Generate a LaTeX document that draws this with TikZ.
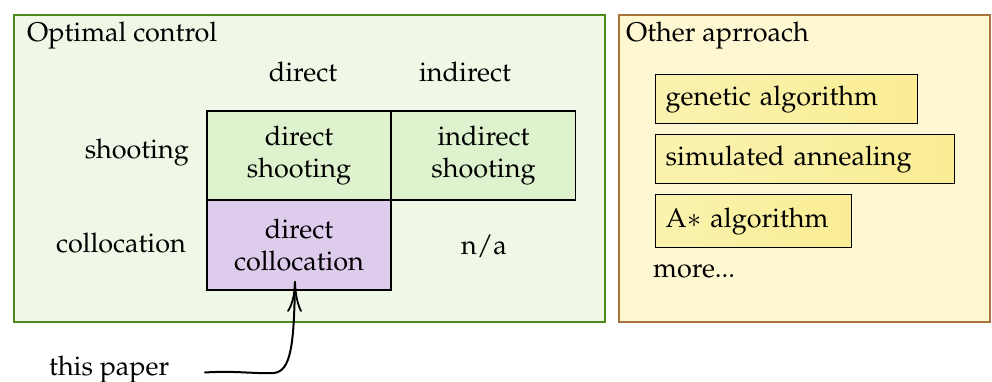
\documentclass[tikz,border=0pt]{standalone}
\usepackage[T1]{fontenc}
\usepackage{mathpazo}
\usetikzlibrary{arrows.meta}
\definecolor{ocborder}{RGB}{76,138,28}
\definecolor{ocfill}{RGB}{239,248,230}
\definecolor{cellgreen}{RGB}{222,242,206}
\definecolor{celllav}{RGB}{221,204,236}
\definecolor{oaborder}{RGB}{168,116,60}
\definecolor{oafill}{RGB}{253,248,210}
\definecolor{yleft}{RGB}{250,243,176}
\definecolor{yright}{RGB}{250,237,148}
\tikzset{
  txt/.style={font=\fontsize{27}{32}\selectfont, inner sep=0pt},
  cell/.style={txt, draw=black, line width=1.6pt, minimum width=184pt, minimum height=89.5pt, align=center},
  ybox/.style={txt, draw=black, line width=1.4pt, left color=yleft, right color=yright, minimum height=49pt, inner xsep=10pt, align=left, anchor=north west},
  arr/.style={line width=2pt, line cap=round},
  barb/.style={line width=1.8pt, line cap=round}
}
\begin{document}
\begin{tikzpicture}[x=1pt,y=-1pt]
\useasboundingbox (0,0) rectangle (992,382);
% frames
\node[draw=ocborder, fill=ocfill, line width=1.6pt, minimum width=591pt, minimum height=307pt, anchor=north west, inner sep=0pt] (oc) at (13,14) {};
\node[draw=oaborder, fill=oafill, line width=1.6pt, minimum width=371pt, minimum height=307pt, anchor=north west, inner sep=0pt] (oa) at (618,14) {};
\node[txt, anchor=base west] (octitle) at (27,42) {Optimal control};
\node[txt, anchor=base west] (oatitle) at (626,42) {Other aprroach};
% headers
\node[txt, anchor=base] (hdir) at (303,82) {direct};
\node[txt, anchor=base] (hind) at (465,82) {indirect};
\node[txt, anchor=east] (rshoot) at (189,153) {shooting};
\node[txt, anchor=east] (rcoll) at (186,243) {collocation};
% cells
\node[cell, fill=cellgreen] (ds) at (299,155.5) {direct\\shooting};
\node[cell, fill=cellgreen] (is) at (483.5,155.5) {indirect\\shooting};
\node[cell, fill=celllav] (dc) at (299,245.25) {direct\\collocation};
\node[txt] (na) at (484,246) {n/a};
% other approaches
\node[ybox, text width=242pt] (ga) at (655,74) {genetic algorithm};
\node[ybox, text width=279pt] (sa) at (655,134) {simulated annealing};
\node[ybox, text width=176pt, minimum height=53pt] (as) at (655,194) {A$*$ algorithm};
\node[txt, anchor=base west] (more) at (653,277) {more...};
% this paper
\node[txt, anchor=base west] (tp) at (49,375) {this paper};
\coordinate (src) at (205,372.5);
\coordinate (tip) at (295,282);
\draw[arr] (src) .. controls (235,370.5) and (255,374) .. (274,373)
  .. controls (291,371) and (294,345) .. (tip);
\draw[barb] (tip) .. controls (294.5,296) and (292,305) .. (288,311);
\draw[barb] (tip) .. controls (295.5,296) and (298,305) .. (301,311);
\end{tikzpicture}
\end{document}
